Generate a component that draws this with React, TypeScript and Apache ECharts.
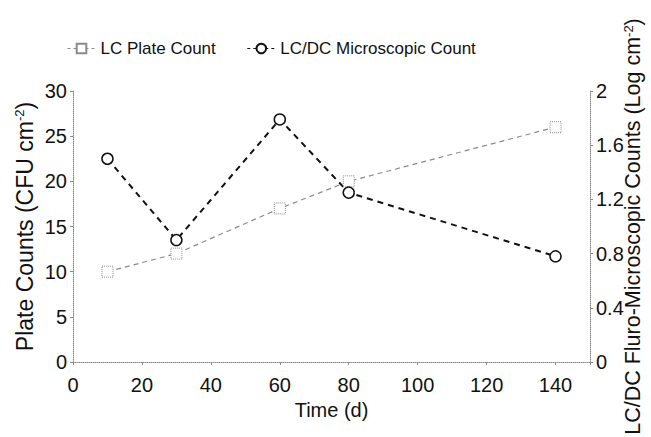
import React, { useEffect, useRef } from "react";
import * as echarts from "echarts";

const timeDays = [10, 30, 60, 80, 140];
const plateCount = [10, 12, 17, 20, 26];
const microscopicCount = [1.5, 0.9, 1.79, 1.25, 0.78];
const leftTicks = [0, 5, 10, 15, 20, 25, 30];
const rightTicks = [0, 0.4, 0.8, 1.2, 1.6, 2];

const FONT = "'Liberation Sans', Arial, sans-serif";

export default function App() {
  const ref = useRef<HTMLDivElement>(null);
  useEffect(() => {
    document.body.style.margin = "0";
    if (!ref.current) return;
    const chart = echarts.init(ref.current, null, { renderer: "svg" });
    const axisLine = { show: true, lineStyle: { color: "#8a8a8a", type: "dotted" as const, width: 1 } };
    const axisTick = { show: true, length: 3, lineStyle: { color: "#8a8a8a", width: 1 } };
    const rich = {
      sup: { fontSize: 13, fontFamily: FONT, color: "#111", verticalAlign: "top" as const, lineHeight: 22 },
    };
    chart.setOption({
      animation: false,
      backgroundColor: "#fff",
      textStyle: { fontFamily: FONT },
      legend: {
        left: 62,
        top: 35,
        itemWidth: 28,
        itemHeight: 12,
        itemGap: 31,
        lineStyle: { type: [3, 3], width: 1 },
        textStyle: { fontSize: 17, color: "#111", fontFamily: FONT },
        data: ["LC Plate Count", "LC/DC Microscopic Count"],
      },
      grid: { left: 73, right: 61, top: 91, bottom: 75, outerBoundsMode: "none" },
      xAxis: {
        type: "value",
        min: 0,
        max: 150,
        interval: 20,
        name: "Time (d)",
        nameLocation: "middle",
        nameGap: 38,
        nameMoveOverlap: false,
        nameTextStyle: { fontSize: 20, color: "#111", fontFamily: FONT },
        axisLine,
        axisTick,
        splitLine: { show: false },
        axisLabel: {
          fontSize: 20,
          color: "#111",
          margin: 13,
          formatter: (v: number) => (v % 20 === 0 ? String(v) : ""),
        },
      },
      yAxis: [
        {
          type: "value",
          min: leftTicks[0],
          max: leftTicks[leftTicks.length - 1],
          interval: 5,
          position: "left",
          name: "Plate Counts (CFU cm{sup|-2})",
          nameLocation: "middle",
          nameRotate: 90,
          nameGap: 37,
          nameMoveOverlap: false,
          nameTextStyle: { fontSize: 23, color: "#111", fontFamily: FONT, rich },
          axisLine,
          axisTick,
          splitLine: { show: false },
          axisLabel: { fontSize: 20, color: "#111", margin: 6 },
        },
        {
          type: "value",
          min: rightTicks[0],
          max: rightTicks[rightTicks.length - 1],
          interval: 0.4,
          position: "right",
          name: "LC/DC Fluro-Microscopic Counts (Log cm{sup|-2})",
          nameLocation: "middle",
          nameRotate: 90,
          nameGap: 32,
          nameMoveOverlap: false,
          nameTextStyle: { fontSize: 21.5, color: "#111", fontFamily: FONT, rich },
          axisLine,
          axisTick,
          splitLine: { show: false },
          axisLabel: {
            fontSize: 20,
            color: "#111",
            margin: 6,
            formatter: (v: number) => String(Math.round(v * 10) / 10),
          },
        },
      ],
      series: [
        {
          name: "LC Plate Count",
          type: "line",
          yAxisIndex: 0,
          data: timeDays.map((t, i) => [t, plateCount[i]]),
          symbol: "rect",
          symbolSize: 11,
          itemStyle: { color: "#fff", borderColor: "#8a8a8a", borderWidth: 1, borderType: "dotted" },
          lineStyle: { color: "#8a8a8a", width: 1.2, type: [5, 4] },
        },
        {
          name: "LC/DC Microscopic Count",
          type: "line",
          yAxisIndex: 1,
          data: timeDays.map((t, i) => [t, microscopicCount[i]]),
          symbol: "circle",
          symbolSize: 11,
          itemStyle: { color: "#fff", borderColor: "#111", borderWidth: 1.5 },
          lineStyle: { color: "#111", width: 2, type: [6, 5] },
        },
      ],
    });
    return () => chart.dispose();
  }, []);
  return <div ref={ref} style={{ width: 651, height: 437 }} />;
}
